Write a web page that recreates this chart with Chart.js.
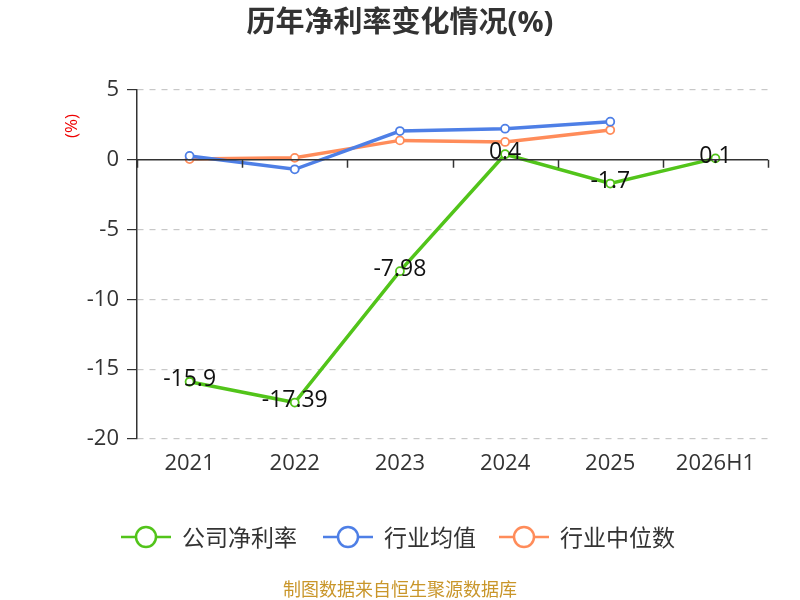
<!DOCTYPE html>
<html>
<head>
<meta charset="utf-8">
<script src="https://cdn.jsdelivr.net/npm/chart.js@4/dist/chart.umd.min.js"></script>
<style>
  html, body { margin: 0; padding: 0; background: #fff; }
  #wrap { width: 800px; height: 600px; }
</style>
</head>
<body>
<div id="wrap"><canvas id="c" width="800" height="600"></canvas></div>
<script>
// values
const years = ['2021', '2022', '2023', '2024', '2025', '2026H1'];
const companyRate = [-15.9, -17.39, -7.98, 0.4, -1.7, 0.1];
const industryAvg = [0.28, -0.68, 2.06, 2.23, 2.73, null];
const industryMedian = [0.05, 0.14, 1.39, 1.28, 2.13, null];
const yTicks = [-20, -15, -10, -5, 0, 5];

const FONT = "'Open Sans', 'Noto Sans CJK SC', sans-serif";
const CJK = "'Noto Sans CJK SC', sans-serif";
const seriesColors = ['#52c41a', '#4e7fe6', '#ff8c5a'];
const seriesNames = ['公司净利率', '行业均值', '行业中位数'];

// title, unit label, legend, source line, zero axis and value labels
const decorations = {
  id: 'decorations',
  afterDraw(chart) {
    const ctx = chart.ctx;
    const x = chart.scales.x, y = chart.scales.y;
    const area = chart.chartArea;
    ctx.save();

    // title
    ctx.fillStyle = '#333';
    ctx.font = "bold 29px " + FONT;
    ctx.textAlign = 'center';
    ctx.textBaseline = 'middle';
    ctx.fillText('历年净利率变化情况(%)', 400, 24);

    // unit
    ctx.save();
    ctx.translate(72, 126);
    ctx.rotate(-Math.PI / 2);
    ctx.fillStyle = '#e00';
    ctx.font = "17px " + FONT;
    ctx.fillText('(%)', 0, 0);
    ctx.restore();

    // zero line with category tick marks
    const y0 = y.getPixelForValue(0);
    ctx.strokeStyle = '#333';
    ctx.lineWidth = 1.5;
    ctx.beginPath();
    ctx.moveTo(area.left, y0);
    ctx.lineTo(area.right, y0);
    for (let i = 0; i <= years.length; i++) {
      const px = Math.round(x.getPixelForValue(i - 0.5)) + 0.5;
      ctx.moveTo(px, y0);
      ctx.lineTo(px, y0 + 8);
    }
    ctx.stroke();

    // value labels for the company series
    const meta = chart.getDatasetMeta(0);
    ctx.fillStyle = '#111';
    ctx.font = "23px " + FONT;
    meta.data.forEach((pt, i) => {
      if (companyRate[i] == null) return;
      ctx.fillText(String(companyRate[i]), pt.x, pt.y - 2);
    });

    // legend
    const legendX = [121, 323, 499];
    const ly = 537;
    seriesNames.forEach((name, i) => {
      const lx = legendX[i];
      ctx.strokeStyle = seriesColors[i];
      ctx.lineWidth = 2.5;
      ctx.beginPath();
      ctx.moveTo(lx, ly);
      ctx.lineTo(lx + 50, ly);
      ctx.stroke();
      ctx.beginPath();
      ctx.arc(lx + 25, ly, 10, 0, Math.PI * 2);
      ctx.fillStyle = '#fff';
      ctx.fill();
      ctx.stroke();
      ctx.fillStyle = '#333';
      ctx.font = "23px " + CJK;
      ctx.textAlign = 'left';
      ctx.fillText(name, lx + 61, ly);
    });

    // source
    ctx.textAlign = 'center';
    ctx.fillStyle = '#c9962a';
    ctx.font = "18px " + CJK;
    ctx.fillText('制图数据来自恒生聚源数据库', 400, 589);

    ctx.restore();
  }
};

function lineSet(label, data, color) {
  return {
    label: label,
    data: data,
    borderColor: color,
    backgroundColor: '#fff',
    borderWidth: 3.5,
    pointRadius: 4,
    pointHoverRadius: 4,
    pointBorderWidth: 1.8,
    pointBackgroundColor: '#fff',
    pointBorderColor: color,
    tension: 0,
    spanGaps: false
  };
}

new Chart(document.getElementById('c'), {
  type: 'line',
  data: {
    labels: years,
    // company first so it is drawn on top
    datasets: [
      lineSet(seriesNames[0], companyRate, seriesColors[0]),
      lineSet(seriesNames[1], industryAvg, seriesColors[1]),
      lineSet(seriesNames[2], industryMedian, seriesColors[2])
    ]
  },
  options: {
    responsive: false,
    animation: false,
    layout: { padding: { left: 0, right: 32, top: 90, bottom: 121 } },
    plugins: {
      legend: { display: false },
      title: { display: false },
      tooltip: { enabled: false }
    },
    scales: {
      x: {
        offset: true,
        grid: { display: false, drawTicks: false },
        border: { display: false },
        ticks: { color: '#333', font: { size: 22, family: FONT }, padding: 12 },
        afterFit(scale) { scale.height = 40; }
      },
      y: {
        min: -20,
        max: 5,
        afterBuildTicks(scale) { scale.ticks = yTicks.map(v => ({ value: v })); },
        grid: {
          color: ctx => (ctx.tick && ctx.tick.value === 0) ? 'rgba(0,0,0,0)' : '#c8c8c8',
          lineWidth: 1.2,
          drawTicks: true,
          tickLength: 10,
          tickColor: '#333'
        },
        border: { display: true, color: '#333', width: 1.5, dash: [6, 6] },
        ticks: { color: '#333', font: { size: 22, family: FONT }, padding: 8 },
        afterFit(scale) { scale.width = 137; }
      }
    }
  },
  plugins: [decorations]
});
</script>
</body>
</html>
